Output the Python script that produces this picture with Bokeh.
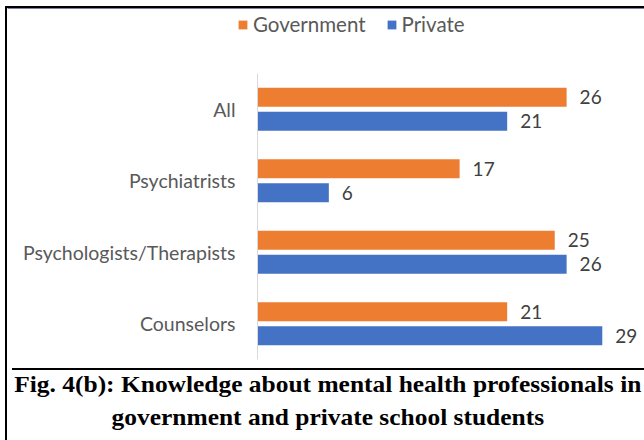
from bokeh.plotting import figure
from bokeh.models import ColumnDataSource, FactorRange, Range1d, Legend, LegendItem, Div
from bokeh.transform import dodge
from bokeh.layouts import column
from bokeh.core.properties import value
from bokeh.embed import file_html
from bokeh.resources import INLINE

categories = ["All", "Psychiatrists", "Psychologists/Therapists", "Counselors"]
government = [26, 17, 25, 21]
private = [21, 6, 26, 29]
series_names = ["Government", "Private"]
series_fields = ["gov", "pri"]
series_colors = ["#ED7D31", "#4472C4"]
caption_lines = ["Fig. 4(b): Knowledge about mental health professionals in",
                 "government and private school students"]

FONT = "Lato"
src = ColumnDataSource(dict(
    cat=categories,
    gov=government,
    pri=private,
    gov_lbl=[str(v) for v in government],
    pri_lbl=[str(v) for v in private],
))

# ---- legend strip (top) ----
lg = figure(width=637, height=65, x_range=Range1d(0, 1), y_range=Range1d(0, 1),
            output_backend="svg", toolbar_location=None,
            min_border_left=0, min_border_right=0, min_border_top=0, min_border_bottom=0)
lg.frame_align = False
lg.axis.visible = False
lg.grid.visible = False
lg.outline_line_color = None
lg_items = []
for name, fld, col in zip(series_names, series_fields, series_colors):
    # legend swatches only: these bars lie outside this strip's ranges
    r = lg.hbar(y=fld, left=0, right=fld, height=0.5, fill_color=col,
                line_color=None, source=src)
    lg_items.append(LegendItem(label=name, renderers=[r]))
legend = Legend(items=lg_items, orientation="horizontal", location=(230, 37),
                glyph_width=11, glyph_height=11, label_standoff=5, spacing=20,
                padding=0, margin=0, border_line_color=None,
                background_fill_alpha=0,
                label_text_font=FONT, label_text_font_size="20.5px",
                label_text_color="#595959", label_height=20)
lg.add_layout(legend)

# ---- bar chart ----
p = figure(width=637, height=290,
           y_range=FactorRange(*reversed(categories)),
           x_range=Range1d(0, 32.55),
           output_backend="svg", toolbar_location=None,
           min_border_left=250, min_border_right=0,
           min_border_top=0, min_border_bottom=4)
p.frame_align = False
p.outline_line_color = None
p.xgrid.visible = False
p.ygrid.visible = False
p.xaxis.visible = False
p.background_fill_color = "white"
p.border_fill_color = "white"

ya = p.yaxis[0]
ya.axis_line_color = "#D9D9D9"
ya.major_tick_line_color = None
ya.minor_tick_line_color = None
ya.major_tick_out = 0
ya.major_label_standoff = 22
ya.major_label_text_font = FONT
ya.major_label_text_font_size = "19.5px"
ya.major_label_text_color = "#595959"

OFF = 0.168
H = 0.265
for fld, off, col in zip(series_fields, (OFF, -OFF), series_colors):
    p.hbar(y=dodge("cat", off, range=p.y_range), left=0, right=fld, height=H,
           fill_color=col, line_color=None, source=src)
    p.text(x=fld, y=dodge("cat", off, range=p.y_range), text=fld + "_lbl", source=src,
           x_offset=13, text_baseline="middle", text_align="left",
           text_font=value(FONT), text_font_size="19px", text_color="#404040")

# ---- caption ----
cap_html = ('<div style="transform:scaleX(1.06);transform-origin:center;white-space:nowrap;'
            'position:relative;top:-3px;">'
            + "<br>".join(caption_lines) + "</div>")
cap = Div(text=cap_html, width=637, height=75,
          styles={"font-family": "Liberation Serif", "font-weight": "bold",
                  "font-size": "24px", "line-height": "33px", "color": "black",
                  "text-align": "center", "border-top": "2px solid black",
                  "padding-top": "1px", "padding-right": "6px",
                  "box-sizing": "border-box", "width": "637px"})

layout = column(lg, p, cap, spacing=0,
                styles={"margin-left": "5px", "margin-top": "6px",
                        "border-left": "2px solid black",
                        "border-top": "2px solid black"})

open("out.html", "w").write(file_html(layout, INLINE))
